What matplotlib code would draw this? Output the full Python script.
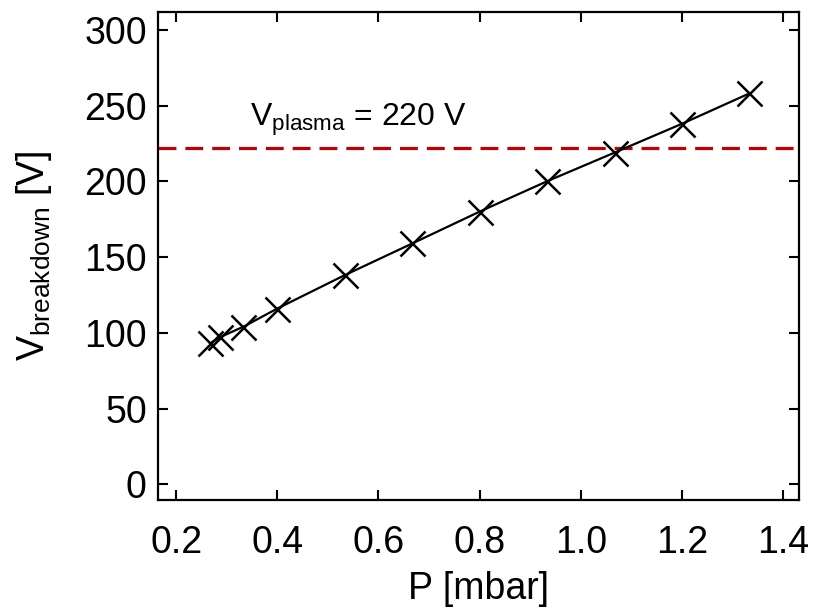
import numpy as np
import matplotlib
matplotlib.use('Agg')
import matplotlib.pyplot as plt

plt.rcParams['font.family'] = ['Liberation Sans', 'DejaVu Sans']
plt.rcParams['mathtext.fontset'] = 'custom'
plt.rcParams['mathtext.rm'] = 'Liberation Sans'
plt.rcParams['mathtext.it'] = 'Liberation Sans'

# pressure [mbar] and breakdown voltage [V]
pressure = [0.267, 0.286, 0.333, 0.400, 0.533, 0.667, 0.800, 0.933, 1.067, 1.200, 1.333]
v_breakdown = [93, 97, 104, 116, 138, 159, 180, 200, 219, 238, 258]
v_plasma = 222

xticks = [0.2, 0.4, 0.6, 0.8, 1.0, 1.2, 1.4]
yticks = [0, 50, 100, 150, 200, 250, 300]

fig = plt.figure(figsize=(8.14, 6.15), dpi=100)
ax = fig.add_axes([0.194, 0.187, 0.788, 0.794])

ax.axhline(v_plasma, color='#c00000', lw=2.3, ls=(0, (5.6, 2.8)), zorder=1)
ax.plot(pressure, v_breakdown, color='black', lw=1.6, marker='x',
        markersize=18, markeredgewidth=1.8, zorder=2)

ax.text(0.346, 236.5, r'V$_{\mathrm{plasma}}$ = 220 V', fontsize=23, va='baseline')

ax.set_xlim(0.164, 1.432)
ax.set_ylim(-10.4, 312)
ax.set_xticks(xticks)
ax.set_xticklabels(['%.1f' % t for t in xticks])
ax.set_yticks(yticks)

ax.tick_params(direction='in', length=7.5, width=1.5, top=True, right=True,
               labelsize=27)
ax.tick_params(axis='x', pad=18)
ax.tick_params(axis='y', pad=8)
for s in ax.spines.values():
    s.set_linewidth(1.6)

ax.set_xlabel('P [mbar]', fontsize=27, labelpad=7)
ax.set_ylabel(r'V$_{\mathrm{breakdown}}$ [V]', fontsize=27, labelpad=22)

fig.savefig('out.png', dpi=100)
